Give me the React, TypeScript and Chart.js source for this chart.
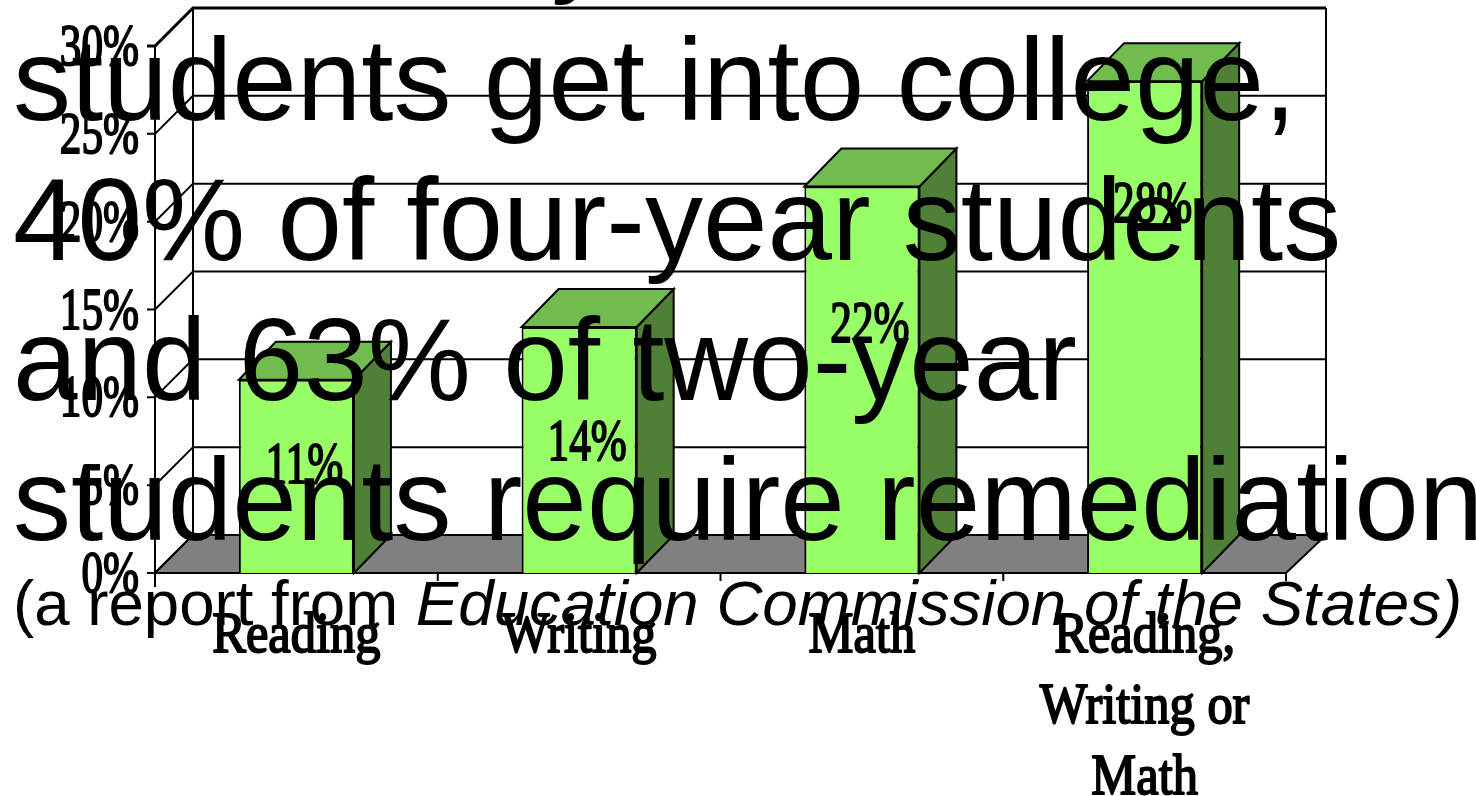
import React, { useEffect, useRef } from "react";
import { Chart, registerables } from "chart.js";

Chart.register(...registerables);

const categories = [["Reading"], ["Writing"], ["Math"], ["Reading,", "Writing or", "Math"]];
const remediationRates = [11, 14, 22, 28];
const rateLabels = ["11%", "14%", "22%", "28%"];
const headlineLines = [
  "students get into college,",
  "40% of four-year students",
  "and 63% of two-year",
  "students require remediation",
];
const sourcePrefix = "(a report from ";
const sourceName = "Education Commission of the States)";

// Heights on the value axis where the rate labels sit inside each column.
const labelLevels = [5.12, 6.43, 13.15, 19.98];

const DEPTH = 38;
const SERIF = '"Liberation Serif"';
const SANS = '"Liberation Sans"';

function squeezedText(ctx: CanvasRenderingContext2D, text: string, x: number, y: number, sx: number, align: CanvasTextAlign) {
  ctx.save();
  ctx.translate(x, y);
  ctx.scale(sx, 1);
  ctx.textAlign = align;
  ctx.textBaseline = "alphabetic";
  ctx.lineWidth = 2;
  ctx.lineJoin = "round";
  ctx.strokeStyle = "#000";
  ctx.fillText(text, 0, 0);
  ctx.strokeText(text, 0, 0);
  ctx.restore();
}

function stroke(ctx: CanvasRenderingContext2D, pts: number[][], width = 2) {
  ctx.beginPath();
  pts.forEach(([x, y], i) => (i ? ctx.lineTo(x, y) : ctx.moveTo(x, y)));
  ctx.lineWidth = width;
  ctx.strokeStyle = "#000";
  ctx.stroke();
}

function polygon(ctx: CanvasRenderingContext2D, pts: number[][], fill: string) {
  ctx.beginPath();
  pts.forEach(([x, y], i) => (i ? ctx.lineTo(x, y) : ctx.moveTo(x, y)));
  ctx.closePath();
  ctx.fillStyle = fill;
  ctx.fill();
  ctx.lineWidth = 2;
  ctx.strokeStyle = "#000";
  ctx.stroke();
}

// Walls, floor, gridlines, and the side and top faces of the columns.
const cabinet = {
  id: "cabinet",
  beforeDatasetsDraw(chart: any) {
    const { ctx, chartArea: a, scales } = chart;
    const y = scales.y;
    ctx.save();
    const base = y.getPixelForValue(0);
    stroke(ctx, [[a.left, a.top], [a.left, base + 14]]);
    stroke(ctx, [[a.left + DEPTH, a.top - DEPTH], [a.left + DEPTH, base - DEPTH]]);
    stroke(ctx, [[a.right + DEPTH + 2, a.top - DEPTH], [a.right + DEPTH + 2, base - DEPTH]]);
    y.ticks.forEach((t: any) => {
      const py = y.getPixelForValue(t.value);
      stroke(ctx, [[a.left - 8, py], [a.left, py], [a.left + DEPTH, py - DEPTH], [a.right + DEPTH + 2, py - DEPTH]], t.value === 30 ? 3 : 2);
    });
    polygon(ctx, [[a.left, base], [a.left + DEPTH, base - DEPTH], [a.right + DEPTH + 2, base - DEPTH], [a.right, base]], "#808080");
    const step = (a.right - a.left) / categories.length;
    for (let i = 0; i <= categories.length; i++) {
      const px = a.left + step * i;
      stroke(ctx, [[px, base], [px, base + 8]]);
    }
    chart.getDatasetMeta(0).data.forEach((bar: any) => {
      const half = bar.width / 2;
      const l = bar.x - half;
      const r = bar.x + half;
      const d = DEPTH - 1;
      polygon(ctx, [[r, bar.y], [r + d, bar.y - DEPTH], [r + d, base - DEPTH], [r, base]], "#4F8035");
      polygon(ctx, [[l, bar.y], [l + d, bar.y - DEPTH], [r + d, bar.y - DEPTH], [r, bar.y]], "#70BC4E");
    });
    ctx.restore();
  },
  afterDatasetsDraw(chart: any) {
    const { ctx, chartArea: a, scales } = chart;
    const y = scales.y;
    const x = scales.x;
    ctx.save();
    ctx.fillStyle = "#000";

    ctx.font = `60px ${SERIF}`;
    y.ticks.forEach((t: any) => {
      squeezedText(ctx, `${t.value}%`, a.left - 16, y.getPixelForValue(t.value) + 19, 0.72, "right");
    });

    const bars = chart.getDatasetMeta(0).data;
    rateLabels.forEach((label, i) => {
      squeezedText(ctx, label, bars[i].x + 8, y.getPixelForValue(labelLevels[i]), 0.72, "center");
    });

    ctx.font = `58px ${SERIF}`;
    categories.forEach((lines, i) => {
      lines.forEach((line, j) => {
        squeezedText(ctx, line, x.getPixelForValue(i), 652 + j * 71, 0.87, "center");
      });
    });

    // Headline printed across the whole plot.
    ctx.textAlign = "left";
    ctx.textBaseline = "alphabetic";
    ctx.font = `116px ${SANS}`;
    ctx.fillText("y", 551, -19);
    headlineLines.forEach((line, i) => ctx.fillText(line, 13, 120 + i * 140));

    ctx.font = `63.6px ${SANS}`;
    ctx.fillText(sourcePrefix, 13, 625);
    const w = ctx.measureText(sourcePrefix).width;
    ctx.font = `italic 63.6px ${SANS}`;
    ctx.fillText(sourceName, 13 + w, 625);
    ctx.restore();
  },
};

export default function App() {
  const ref = useRef<HTMLCanvasElement>(null);
  useEffect(() => {
    document.body.style.margin = "0";
    const chart = new Chart(ref.current!, {
      type: "bar",
      data: {
        labels: categories.map((c) => c.join(" ")),
        datasets: [
          {
            data: remediationRates,
            backgroundColor: "#99FF66",
            borderColor: "#000",
            borderWidth: 2,
            barPercentage: 0.407,
            categoryPercentage: 1,
          },
        ],
      },
      options: {
        animation: false,
        responsive: false,
        layout: { padding: { left: 147, right: 190, top: 46, bottom: 215 } },
        plugins: { legend: { display: false }, tooltip: { enabled: false } },
        scales: {
          x: { grid: { display: false }, border: { display: false }, ticks: { display: false } },
          y: {
            min: 0,
            max: 30,
            grid: { display: false },
            border: { display: false },
            ticks: { display: false, stepSize: 5 },
          },
        },
      },
      plugins: [cabinet],
    });
    return () => chart.destroy();
  }, []);
  return <canvas ref={ref} width={1476} height={796} style={{ display: "block" }} />;
}
